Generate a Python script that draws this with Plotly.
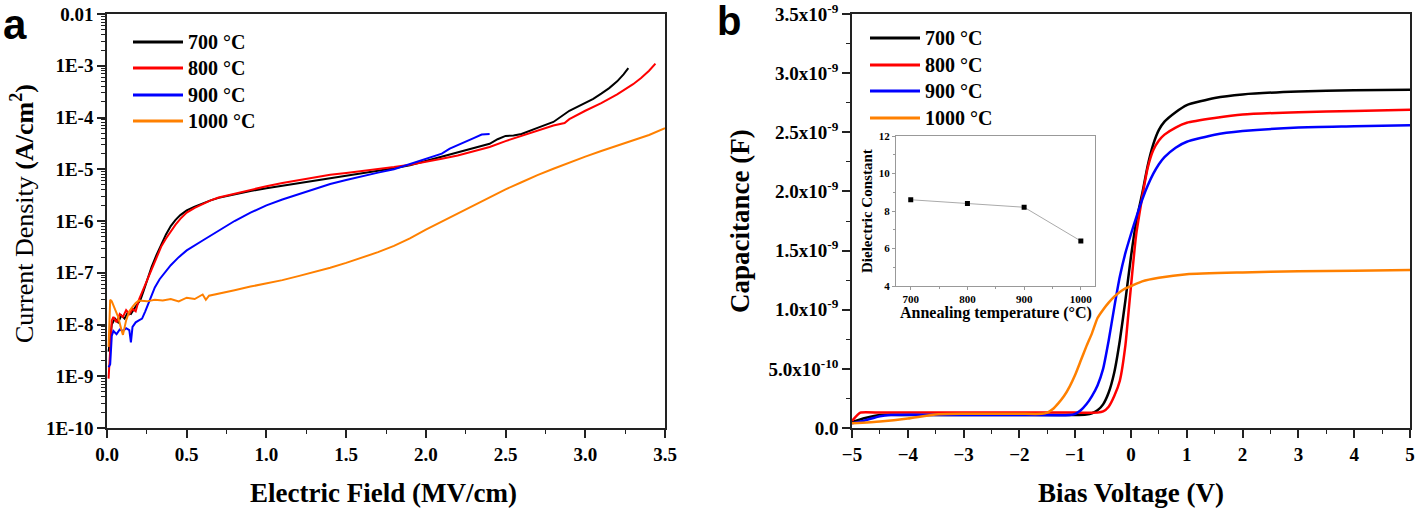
import plotly.graph_objects as go

# ---------------- Panel a: J-E curves ----------------
e_700 = [0.01, 0.02, 0.03, 0.05, 0.07, 0.09, 0.11, 0.13, 0.15, 0.17, 0.19, 0.21, 0.23, 0.25, 0.28, 0.31, 0.34,
         0.37, 0.40, 0.43, 0.46, 0.50, 0.55, 0.60, 0.65, 0.70, 0.80, 0.90, 1.00, 1.10, 1.20, 1.30, 1.40, 1.50,
         1.60, 1.70, 1.80, 1.90, 2.00, 2.10, 2.20, 2.30, 2.40, 2.45, 2.50, 2.55, 2.60, 2.70, 2.80, 2.90, 3.00,
         3.05, 3.10, 3.15, 3.20, 3.24, 3.27]
j_700 = [3e-9, 6e-9, 1.0e-8, 1.3e-8, 1.1e-8, 1.5e-8, 1.3e-8, 1.7e-8, 1.6e-8, 2.0e-8, 2.4e-8, 3.0e-8, 4.5e-8,
         7e-8, 1.3e-7, 2.2e-7, 3.6e-7, 5.5e-7, 8e-7, 1.05e-6, 1.3e-6, 1.6e-6, 1.9e-6, 2.2e-6, 2.5e-6, 2.8e-6,
         3.3e-6, 3.8e-6, 4.3e-6, 4.8e-6, 5.3e-6, 5.9e-6, 6.6e-6, 7.3e-6, 8.3e-6, 9.3e-6, 1.05e-5, 1.2e-5,
         1.45e-5, 1.75e-5, 2.15e-5, 2.6e-5, 3.1e-5, 3.8e-5, 4.4e-5, 4.5e-5, 4.8e-5, 6.3e-5, 8.2e-5, 1.35e-4,
         1.9e-4, 2.3e-4, 2.9e-4, 3.7e-4, 5.0e-4, 6.8e-4, 9.0e-4]

e_800 = [0.01, 0.02, 0.03, 0.04, 0.06, 0.08, 0.10, 0.12, 0.14, 0.16, 0.18, 0.20, 0.22, 0.25, 0.28, 0.31, 0.34,
         0.37, 0.40, 0.43, 0.46, 0.50, 0.55, 0.60, 0.65, 0.70, 0.80, 0.90, 1.00, 1.10, 1.20, 1.30, 1.40, 1.50,
         1.60, 1.70, 1.80, 1.90, 2.00, 2.10, 2.20, 2.30, 2.40, 2.50, 2.60, 2.70, 2.80, 2.87, 2.90, 3.00, 3.10,
         3.20, 3.30, 3.35, 3.40, 3.44]
j_800 = [9e-10, 4e-9, 1.2e-8, 1.4e-8, 1.1e-8, 1.6e-8, 1.4e-8, 1.9e-8, 1.6e-8, 2.0e-8, 1.8e-8, 3.0e-8, 4.2e-8,
         7.2e-8, 1.2e-7, 2e-7, 3.2e-7, 4.6e-7, 6.4e-7, 8.5e-7, 1.1e-6, 1.45e-6, 1.8e-6, 2.15e-6, 2.5e-6,
         2.85e-6, 3.4e-6, 4.0e-6, 4.7e-6, 5.4e-6, 6.1e-6, 7.0e-6, 7.8e-6, 8.5e-6, 9.2e-6, 1.0e-5, 1.1e-5,
         1.22e-5, 1.38e-5, 1.6e-5, 1.85e-5, 2.2e-5, 2.7e-5, 3.5e-5, 4.4e-5, 5.4e-5, 7.0e-5, 7.8e-5, 9.3e-5,
         1.35e-4, 1.9e-4, 2.8e-4, 4.4e-4, 5.8e-4, 8.0e-4, 1.1e-3]

e_900 = [0.01, 0.02, 0.03, 0.04, 0.06, 0.08, 0.10, 0.12, 0.14, 0.15, 0.16, 0.18, 0.20, 0.22, 0.24, 0.26, 0.28,
         0.30, 0.33, 0.36, 0.40, 0.45, 0.50, 0.60, 0.70, 0.80, 0.90, 1.00, 1.10, 1.20, 1.30, 1.40, 1.50, 1.60,
         1.70, 1.80, 1.90, 2.00, 2.10, 2.15, 2.20, 2.25, 2.30, 2.35, 2.38, 2.40]
j_900 = [1.5e-9, 1.7e-9, 6e-9, 7.5e-9, 6.5e-9, 8e-9, 7.5e-9, 8.5e-9, 7.8e-9, 4.5e-9, 9e-9, 1.1e-8, 1.2e-8,
         1.3e-8, 1.8e-8, 2.6e-8, 3.8e-8, 5.2e-8, 7.5e-8, 1.0e-7, 1.4e-7, 2.0e-7, 2.7e-7, 4.2e-7, 6.5e-7,
         1.0e-6, 1.45e-6, 2.0e-6, 2.6e-6, 3.3e-6, 4.2e-6, 5.2e-6, 6.2e-6, 7.4e-6, 8.6e-6, 1.0e-5, 1.25e-5,
         1.55e-5, 2.0e-5, 2.5e-5, 2.9e-5, 3.4e-5, 4.0e-5, 4.7e-5, 4.7e-5, 4.8e-5]

e_1000 = [0.01, 0.02, 0.03, 0.05, 0.07, 0.09, 0.10, 0.12, 0.14, 0.16, 0.18, 0.20, 0.25, 0.30, 0.35, 0.40, 0.45,
          0.50, 0.55, 0.60, 0.62, 0.64, 0.70, 0.80, 0.90, 1.00, 1.10, 1.20, 1.30, 1.40, 1.50, 1.60, 1.70, 1.80,
          1.90, 2.00, 2.10, 2.20, 2.30, 2.40, 2.50, 2.60, 2.70, 2.80, 2.90, 3.00, 3.10, 3.20, 3.30, 3.40, 3.50]
j_1000 = [3.7e-9, 3e-8, 2.8e-8, 2.0e-8, 1.4e-8, 8e-9, 6.3e-9, 1.2e-8, 1.8e-8, 2.2e-8, 2.6e-8, 2.9e-8, 2.8e-8,
          3.0e-8, 2.9e-8, 3.1e-8, 2.8e-8, 3.3e-8, 3.1e-8, 3.8e-8, 3.0e-8, 3.6e-8, 3.9e-8, 4.6e-8, 5.4e-8,
          6.2e-8, 7.2e-8, 8.6e-8, 1.03e-7, 1.25e-7, 1.55e-7, 1.95e-7, 2.5e-7, 3.3e-7, 4.6e-7, 6.8e-7, 9.7e-7,
          1.4e-6, 2.05e-6, 2.9e-6, 4.1e-6, 5.6e-6, 7.7e-6, 1.02e-5, 1.35e-5, 1.75e-5, 2.25e-5, 2.85e-5,
          3.6e-5, 4.6e-5, 6.2e-5]

a_ytick_vals = [1e-2, 1e-3, 1e-4, 1e-5, 1e-6, 1e-7, 1e-8, 1e-9, 1e-10]
a_ytick_text = ["0.01", "1E-3", "1E-4", "1E-5", "1E-6", "1E-7", "1E-8", "1E-9", "1E-10"]

# ---------------- Panel b: C-V curves (capacitance in units of 1e-9 F) ----------------
v_700 = [-5, -4.8, -4.5, -4, -3, -2, -1, -0.8, -0.7, -0.6, -0.5, -0.4, -0.3, -0.2, -0.1, 0, 0.1, 0.2, 0.3,
         0.4, 0.5, 0.6, 0.8, 1.0, 1.5, 2, 3, 4, 5]
c_700 = [0.05, 0.08, 0.11, 0.11, 0.11, 0.11, 0.11, 0.115, 0.125, 0.15, 0.2, 0.3, 0.47, 0.74, 1.08, 1.45, 1.76,
         1.98, 2.22, 2.4, 2.52, 2.59, 2.67, 2.73, 2.79, 2.82, 2.845, 2.855, 2.86]

v_800 = [-5, -4.85, -4.5, -4, -3, -2, -1, -0.6, -0.5, -0.4, -0.3, -0.2, -0.1, -0.05, 0, 0.07, 0.1, 0.2, 0.3,
         0.4, 0.5, 0.6, 0.8, 1.0, 1.5, 2, 3, 4, 5]
c_800 = [0.06, 0.13, 0.13, 0.13, 0.13, 0.13, 0.13, 0.13, 0.14, 0.18, 0.27, 0.4, 0.7, 0.95, 1.2, 1.54, 1.66,
         1.95, 2.2, 2.35, 2.43, 2.48, 2.54, 2.58, 2.62, 2.65, 2.67, 2.68, 2.69]

v_900 = [-5, -4.8, -4.5, -4.3, -3, -2, -1.1, -1.0, -0.9, -0.8, -0.7, -0.6, -0.5, -0.4, -0.3, -0.2, -0.1, 0,
         0.1, 0.2, 0.3, 0.4, 0.5, 0.6, 0.8, 1.0, 1.5, 2, 3, 4, 5]
c_900 = [0.04, 0.06, 0.1, 0.11, 0.11, 0.11, 0.11, 0.12, 0.15, 0.2, 0.27, 0.36, 0.5, 0.74, 1.02, 1.28, 1.48,
         1.64, 1.79, 1.93, 2.05, 2.15, 2.23, 2.29, 2.37, 2.42, 2.48, 2.51, 2.54, 2.55, 2.56]

v_1000 = [-5, -4.5, -4, -3.5, -3, -2, -1.6, -1.5, -1.4, -1.3, -1.2, -1.1, -1.0, -0.9, -0.8, -0.7, -0.6, -0.5,
          -0.4, -0.3, -0.2, -0.1, 0, 0.2, 0.5, 1.0, 2, 3, 4, 5]
c_1000 = [0.04, 0.055, 0.08, 0.115, 0.12, 0.12, 0.12, 0.13, 0.16, 0.21, 0.27, 0.35, 0.45, 0.57, 0.69, 0.8,
          0.93, 1.0, 1.06, 1.11, 1.15, 1.18, 1.2, 1.24, 1.27, 1.3, 1.315, 1.325, 1.33, 1.335]

b_ytick_vals = [0, 0.5, 1.0, 1.5, 2.0, 2.5, 3.0, 3.5]
b_ytick_text = ["0.0", "5.0x10<sup>-10</sup>", "1.0x10<sup>-9</sup>", "1.5x10<sup>-9</sup>",
                "2.0x10<sup>-9</sup>", "2.5x10<sup>-9</sup>", "3.0x10<sup>-9</sup>", "3.5x10<sup>-9</sup>"]

# ---------------- Inset: dielectric constant ----------------
anneal_temp = [700, 800, 900, 1000]
dielectric_const = [8.6, 8.4, 8.2, 6.4]

series_names = ["700 °C", "800 °C", "900 °C", "1000 °C"]
colors = ["#000000", "#ff0000", "#0000ff", "#ff8000"]

SERIF = "Liberation Serif"
fig = go.Figure()

a_data = [(e_700, j_700), (e_800, j_800), (e_900, j_900), (e_1000, j_1000)]
for (xs, ys), name, col in zip(a_data, series_names, colors):
    fig.add_trace(go.Scatter(x=xs, y=ys, mode="lines", name=name, showlegend=False,
                             line=dict(color=col, width=2), xaxis="x", yaxis="y"))

b_data = [(v_700, c_700), (v_800, c_800), (v_900, c_900), (v_1000, c_1000)]
for (xs, ys), name, col in zip(b_data, series_names, colors):
    fig.add_trace(go.Scatter(x=xs, y=ys, mode="lines", name=name, showlegend=False,
                             line=dict(color=col, width=2.5, shape="spline", smoothing=0.5),
                             xaxis="x2", yaxis="y2"))

fig.add_trace(go.Scatter(x=anneal_temp, y=dielectric_const, mode="lines+markers", showlegend=False,
                         line=dict(color="#aaaaaa", width=1),
                         marker=dict(symbol="square", size=5, color="black"),
                         xaxis="x3", yaxis="y3"))

W, H = 1418, 512
L, R, T, B = 107, 8, 14, 84
PW, PH = W - L - R, H - T - B


def px(xp):
    # figure x pixel -> paper coordinate
    return (xp - L) / PW


def py(yp):
    # figure y pixel -> paper coordinate
    return (H - B - yp) / PH


tickfont = dict(family=SERIF, size=19, color="black", weight="bold")
axis_common = dict(showline=True, linecolor="#222222", linewidth=1.5, mirror=True, ticks="outside",
                   ticklen=8, tickwidth=1.5, tickcolor="#222222", showgrid=False, zeroline=False,
                   tickfont=tickfont, automargin=False, ticklabeloverflow="allow")

minor_log = [k * 10.0 ** e for e in range(-10, -2) for k in range(2, 10)]

fig.update_layout(
    width=W, height=H,
    margin=dict(l=L, r=R, t=T, b=B),
    paper_bgcolor="white", plot_bgcolor="white",
    xaxis=dict(domain=[0, px(665)], range=[0, 3.5], tickvals=[0, 0.5, 1, 1.5, 2, 2.5, 3, 3.5],
               ticktext=["0.0", "0.5", "1.0", "1.5", "2.0", "2.5", "3.0", "3.5"],
               minor=dict(tickvals=[0.25, 0.75, 1.25, 1.75, 2.25, 2.75, 3.25], ticks="outside",
                          ticklen=4, tickwidth=1.2, tickcolor="#222222"),
               anchor="y", **axis_common),
    yaxis=dict(domain=[0, 1], type="log", range=[-10, -2], tickvals=a_ytick_vals, ticktext=a_ytick_text,
               minor=dict(tickvals=minor_log, ticks="outside", ticklen=4, tickwidth=1, tickcolor="#222222"),
               anchor="x", **axis_common),
    xaxis2=dict(domain=[px(852), 1], range=[-5, 5], tickvals=list(range(-5, 6)),
                minor=dict(tickvals=[-4.5, -3.5, -2.5, -1.5, -0.5, 0.5, 1.5, 2.5, 3.5, 4.5], ticks="outside",
                           ticklen=4, tickwidth=1.2, tickcolor="#222222"),
                anchor="y2", **axis_common),
    yaxis2=dict(domain=[0, 1], range=[0, 3.5], tickvals=b_ytick_vals, ticktext=b_ytick_text,
                minor=dict(tickvals=[0.25, 0.75, 1.25, 1.75, 2.25, 2.75, 3.25], ticks="outside",
                           ticklen=4, tickwidth=1.2, tickcolor="#222222"),
                anchor="x2", **axis_common),
    xaxis3=dict(domain=[px(896), px(1095)], range=[674, 1025], tickvals=anneal_temp,
                showline=True, linecolor="#999999", linewidth=1, mirror=True, ticks="outside",
                ticklen=3, tickcolor="#999999", showgrid=False, zeroline=False, automargin=False,
                minor=dict(tickvals=[750, 850, 950], ticks="outside", ticklen=2, tickcolor="#999999"),
                tickfont=dict(family=SERIF, size=11, color="black", weight="bold"), anchor="y3"),
    yaxis3=dict(domain=[py(286), py(136)], range=[4, 12], tickvals=[4, 6, 8, 10, 12],
                showline=True, linecolor="#999999", linewidth=1, mirror=True, ticks="outside",
                ticklen=3, tickcolor="#999999", showgrid=False, zeroline=False, automargin=False,
                minor=dict(tickvals=[5, 7, 9, 11], ticks="outside", ticklen=2, tickcolor="#999999"),
                tickfont=dict(family=SERIF, size=11, color="black", weight="bold"), anchor="x3"),
)

annotations = []
shapes = []


def ann(text, x, y, size, rot=0, family=SERIF, xanchor="center", yanchor="middle"):
    annotations.append(dict(text=text, x=x, y=y, xref="paper", yref="paper", showarrow=False,
                            textangle=rot, xanchor=xanchor, yanchor=yanchor,
                            font=dict(family=family, size=size, color="black")))


# axis titles
ann("<b>Electric Field (MV/cm)</b>", px(383), py(493), 27)
ann("Current Density <b>(A/cm<sup>2</sup>)</b>", px(22), py(214), 26, rot=-90)
ann("<b>Bias Voltage (V)</b>", px(1131), py(493), 27)
ann("<b>Capacitance (F)</b>", px(740), py(221), 27, rot=-90)
# inset titles
ann("<b>Annealing temperature (°C)</b>", px(996), py(313), 16)
ann("<b>Dielectric Constant</b>", px(867), py(211), 15, rot=-90)
# panel letters
ann("<b>a</b>", px(15), py(24), 42, family="Liberation Sans")
ann("<b>b</b>", px(729), py(21), 40, family="Liberation Sans")

# manual legends
legend_a_y = [42, 68, 95, 121]
legend_b_y = [38, 65, 91, 118]
for name, col, ya, yb in zip(series_names, colors, legend_a_y, legend_b_y):
    shapes.append(dict(type="line", xref="paper", yref="paper", x0=px(133), x1=px(183), y0=py(ya), y1=py(ya),
                       line=dict(color=col, width=3)))
    ann("<b>" + name + "</b>", px(186), py(ya), 20, xanchor="left")
    shapes.append(dict(type="line", xref="paper", yref="paper", x0=px(870), x1=px(920), y0=py(yb), y1=py(yb),
                       line=dict(color=col, width=3)))
    ann("<b>" + name + "</b>", px(923), py(yb), 20, xanchor="left")

fig.update_layout(annotations=annotations, shapes=shapes)
fig.write_html("out.html", config={"displayModeBar": False},
               post_script="document.body.style.margin='0px';")
